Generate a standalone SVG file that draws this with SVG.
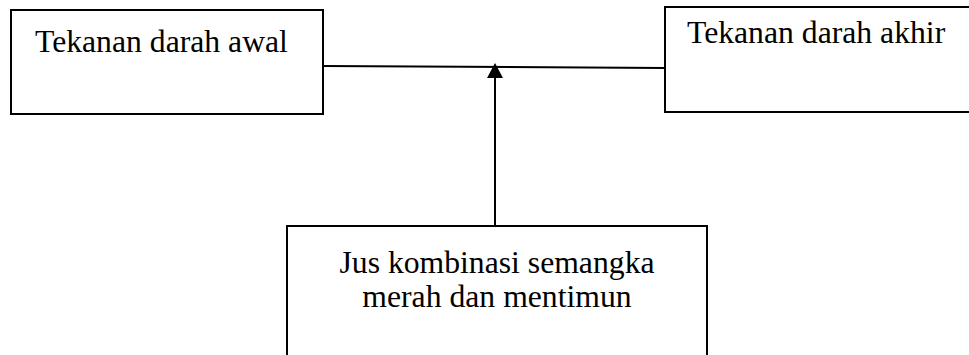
<svg xmlns="http://www.w3.org/2000/svg" width="969" height="355" viewBox="0 0 969 355">
<style>
.box{fill:#fff;stroke:#000;stroke-width:2}
.t{font-family:"Liberation Serif","Times New Roman",serif;font-size:31.7px;fill:#000}
.c{stroke:#000;stroke-width:2;fill:none}
</style>
<rect width="969" height="355" fill="#fff"/>
<g id="connectors">
<line class="c" x1="323" y1="66" x2="665" y2="68"/>
<line class="c" x1="495" y1="226" x2="495" y2="78"/>
<polygon points="495,63 487,78 503,78" fill="#000"/>
</g>
<g id="node-awal">
<rect class="box" x="11" y="10" width="312" height="104"/>
<text class="t" x="35" y="52">Tekanan darah awal</text>
</g>
<g id="node-akhir">
<rect class="box" x="665" y="7" width="310" height="105"/>
<text class="t" x="687" y="43">Tekanan darah akhir</text>
</g>
<g id="node-jus">
<rect class="box" x="287" y="226" width="420" height="140"/>
<text class="t" x="497" y="273" text-anchor="middle">Jus kombinasi semangka</text>
<text class="t" x="497" y="307" text-anchor="middle">merah dan mentimun</text>
</g>
</svg>
